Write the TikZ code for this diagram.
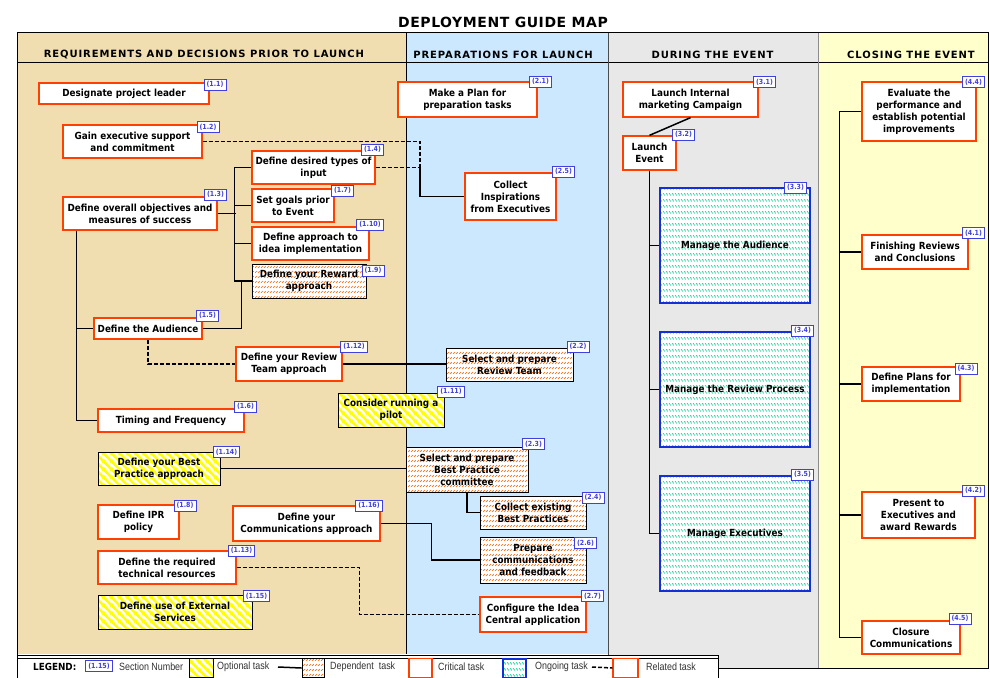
\documentclass[tikz,border=0pt]{standalone}
\usepackage{fontspec}
\setmainfont{DejaVu Sans}
\newfontfamily\taskfont{DejaVu Sans}[FakeStretch=0.9]
\newfontfamily\headfont{DejaVu Sans}[LetterSpace=9]
\newfontfamily\titlefont{DejaVu Sans}[LetterSpace=4]
\newfontfamily\legfont{Liberation Sans}[FakeStretch=0.85]
\usepackage{tikz}
\usetikzlibrary{patterns}

\definecolor{colreq}{RGB}{240,222,176}
\definecolor{colprep}{RGB}{204,232,255}
\definecolor{colduring}{RGB}{232,232,232}
\definecolor{colclose}{RGB}{255,255,204}
\definecolor{critred}{RGB}{255,64,0}
\definecolor{depor}{RGB}{255,110,20}
\definecolor{optyel}{RGB}{255,255,0}
\definecolor{ongoblue}{RGB}{16,48,220}
\definecolor{ongogreen}{RGB}{0,210,150}
\definecolor{tagblue}{RGB}{64,64,220}

% small slanted marks for dependent tasks
\pgfdeclarepatternformonly{depmarks}{\pgfpointorigin}{\pgfpoint{3pt}{4.5pt}}{\pgfpoint{3pt}{4.5pt}}{
  \pgfsetlinewidth{0.8pt}
  \pgfpathmoveto{\pgfpoint{0.4pt}{1.2pt}}
  \pgfpathlineto{\pgfpoint{2.2pt}{3.2pt}}
  \pgfusepath{stroke}
}
% marks for ongoing tasks
\pgfdeclarepatternformonly{ongomarks}{\pgfpointorigin}{\pgfpoint{3pt}{6pt}}{\pgfpoint{3pt}{6pt}}{
  \pgfsetlinewidth{0.8pt}
  \pgfpathmoveto{\pgfpoint{0.4pt}{4.2pt}}
  \pgfpathlineto{\pgfpoint{2.2pt}{1.8pt}}
  \pgfusepath{stroke}
}
% wide stripes for optional tasks
\pgfdeclarepatternformonly{optstripes}{\pgfpointorigin}{\pgfpoint{8pt}{8pt}}{\pgfpoint{8pt}{8pt}}{
  \pgfsetlinewidth{2.8pt}
  \pgfpathmoveto{\pgfpoint{-1pt}{1pt}}\pgfpathlineto{\pgfpoint{1pt}{-1pt}}
  \pgfpathmoveto{\pgfpoint{-1pt}{9pt}}\pgfpathlineto{\pgfpoint{9pt}{-1pt}}
  \pgfpathmoveto{\pgfpoint{7pt}{9pt}}\pgfpathlineto{\pgfpoint{9pt}{7pt}}
  \pgfusepath{stroke}
}

\begin{document}
\begin{tikzpicture}[x=1pt, y=-1pt]
		\tikzset{
		    box/.style={rectangle, inner sep=0pt, align=center, font=\taskfont\bfseries\fontsize{9.8}{12}\selectfont},
		    sz/.style 2 args={minimum width=#1pt, minimum height=#2pt},
		    crit/.style={box, draw=critred, fill=white, line width=1.3pt},
		    dep/.style={box, draw=black, line width=0.9pt, preaction={fill=white}, pattern=depmarks, pattern color=depor},
		    opt/.style={box, draw=black, line width=0.9pt, preaction={fill=white}, pattern=optstripes, pattern color=optyel},
		    ongo/.style={box, draw=ongoblue, line width=2pt, preaction={fill=white}, pattern=ongomarks, pattern color=ongogreen},
		    tag/.style={rectangle, draw=tagblue, fill=white, text=tagblue, line width=0.9pt, inner xsep=2.5pt, inner ysep=0pt, minimum height=11pt, font=\taskfont\bfseries\fontsize{7}{8}\selectfont},
		    link/.style={draw=black, line width=1.5pt},
		    rel/.style={draw=black, line width=1.5pt, dash pattern=on 4pt off 2pt},
		    head/.style={font=\headfont\bfseries\fontsize{10}{12}\selectfont},
		    leg/.style={anchor=west, inner sep=0pt, text=black!80, font=\legfont\fontsize{10.5}{12}\selectfont},
		}
		\useasboundingbox (0,0) rectangle (990,677);
		
		% columns
		\fill[colreq] (17,33) rectangle (406,654);
		\fill[colprep] (406,33) rectangle (608,654);
		\fill[colduring] (608,33) rectangle (818,668);
		\fill[colclose] (818,33) rectangle (988,668);
		\draw[line width=1pt] (17,680) -- (17,33) -- (988,33) -- (988,668) -- (718,668);
		\draw[line width=1pt] (17,63) -- (988,63);
		\draw[line width=1pt] (406,33) -- (406,654);
		\draw[black!70, line width=0.8pt] (608,33) -- (608,668);
		\draw[black!45, line width=0.8pt] (818,33) -- (818,668);
		
		\node[font=\titlefont\bfseries\fontsize{14}{16}\selectfont] (title) at (503,22) {DEPLOYMENT GUIDE MAP};
		\node[head] (h1) at (204,55) {REQUIREMENTS AND DECISIONS PRIOR TO LAUNCH};
		\node[head] (h2) at (503,55) {PREPARATIONS FOR LAUNCH};
		\node[head] (h3) at (712.5,55) {DURING THE EVENT};
		\node[head] (h4) at (911,55) {CLOSING THE EVENT};
		
		% requirements and decisions
		\node[crit, sz={170}{21}] (t11) at (124,93.5) {Designate project leader};
		\node[crit, sz={139}{33}] (t12) at (132.5,141.5) {Gain executive support\\and commitment};
		\node[crit, sz={123}{33}] (t14) at (313.5,167.5) {Define desired types of\\input};
		\node[crit, sz={82}{33}] (t17) at (293,205.5) {Set goals prior\\to Event};
		\node[crit, sz={154}{33}] (t13) at (140,213.5) {Define overall objectives and\\measures of success};
		\node[crit, sz={117}{33}] (t110) at (310.5,243.5) {Define approach to\\idea implementation};
		\node[dep, sz={114}{34}] (t19) at (309,281) {Define your Reward\\approach};
		\node[crit, sz={108}{21}] (t15) at (148,328.5) {Define the Audience};
		\node[crit, sz={106}{34}] (t112) at (289,364) {Define your Review\\Team approach};
		\node[opt, sz={106}{34}] (t111) at (391,410) {Consider running a\\pilot};
		\node[crit, sz={146}{23}] (t16) at (171,420.5) {Timing and Frequency};
		\node[opt, sz={122}{33}] (t114) at (159,468.5) {Define your Best\\Practice approach};
		\node[crit, sz={81}{34}] (t18) at (138.5,522) {Define IPR\\policy};
		\node[crit, sz={147}{35}] (t116) at (306.5,523.5) {Define your\\Communications approach};
		\node[crit, sz={138}{33}] (t113) at (167,567.5) {Define the required\\technical resources};
		\node[opt, sz={154}{34}] (t115) at (175,612) {Define use of External\\Services};
		
		% preparations
		\node[crit, sz={139}{35}] (t21) at (467.5,99.5) {Make a Plan for\\preparation tasks};
		\node[crit, sz={91}{47}] (t25) at (510.5,196.5) {Collect\\Inspirations\\from Executives};
		\node[dep, sz={127}{33}] (t22) at (509.5,364.5) {Select and prepare\\Review Team};
		\node[dep, sz={122}{45}] (t23) at (467,469.5) {Select and prepare\\Best Practice\\committee};
		\node[dep, sz={106}{33}] (t24) at (533,512.5) {Collect existing\\Best Practices};
		\node[dep, sz={106}{46}] (t26) at (533,560) {Prepare\\communications\\and feedback};
		\node[crit, sz={106}{35}] (t27) at (533,614.5) {Configure the Idea\\Central application};
		
		% during the event
		\node[crit, sz={135}{35}] (t31) at (690.5,99.5) {Launch Internal\\marketing Campaign};
		\node[crit, sz={53}{34}] (t32) at (649.5,153) {Launch\\Event};
		\node[ongo, sz={150}{115}] (t33) at (735,245.5) {Manage the Audience};
		\node[ongo, sz={150}{115}] (t34) at (735,389.5) {Manage the Review Process};
		\node[ongo, sz={150}{115}] (t35) at (735,533.5) {Manage Executives};
		
		% closing the event
		\node[crit, sz={114}{59}] (t44) at (919,111.5) {Evaluate the\\performance and\\establish potential\\improvements};
		\node[crit, sz={106}{34}] (t41) at (915,252) {Finishing Reviews\\and Conclusions};
		\node[crit, sz={98}{34}] (t43) at (911,384) {Define Plans for\\implementation};
		\node[crit, sz={113}{46}] (t42) at (918.5,515) {Present to\\Executives and\\award Rewards};
		\node[crit, sz={98}{33}] (t45) at (911,637.5) {Closure\\Communications};
		
		% connectors
		\coordinate (j25) at (420,167.5);
		\draw[link] (t13.east) -- ++(18,0);
		\draw[link] (t14.west) -- ++(-17,0) |- (t19.west);
		\draw[link] (t17.west) -- ++(-17,0);
		\draw[link] (t110.west) -- ++(-17,0);
		\draw[link] (t15.east) -| ([xshift=-10pt]t19.west);
		\draw[link] ([xshift=14pt]t13.south west) |- (t16.west);
		\draw[link] ([xshift=14pt]t13.south west) |- (t15.west);
		\draw[rel] (t15.south) |- (t112.west);
		\draw[link] (t112.east) -- (t112.east -| t22.west);
		\draw[link] (t114.east) -- (t114.east -| t23.west);
		\draw[link] (t23.south) |- (t24.west);
		\draw[link] (t116.east) -- ++(51,0) |- (t26.west);
		\draw[rel] (t113.east) -- ++(123,0) |- (t27.west);
		\draw[rel] (t12.east) -| (j25);
		\draw[rel] (t14.east) -- (j25);
		\draw[link] (j25) |- (t25.west);
		\draw[link] (t31.south) -- (t32.north);
		\draw[link] (t32.south) |- (t35.west);
		\draw[link] (t32.south) |- (t33.west);
		\draw[link] (t32.south) |- (t34.west);
		\draw[link] (t44.west) -- ++(-22,0) |- (t45.west);
		\draw[link] (t41.west) -- ++(-22,0);
		\draw[link] (t43.west) -- ++(-22,0);
		\draw[link] (t42.west) -- ++(-22,0);
		
		% section numbers
		\node[tag] (g11) at (215,84.5) {(1.1)};
		\node[tag] (g12) at (208,127) {(1.2)};
		\node[tag] (g14) at (372.5,149.5) {(1.4)};
		\node[tag] (g17) at (342.5,190.5) {(1.7)};
		\node[tag] (g13) at (215.5,194.5) {(1.3)};
		\node[tag] (g110) at (370,224.5) {(1.10)};
		\node[tag] (g19) at (373,270.5) {(1.9)};
		\node[tag] (g15) at (207.5,315.5) {(1.5)};
		\node[tag] (g112) at (354,346.5) {(1.12)};
		\node[tag] (g111) at (451,391.5) {(1.11)};
		\node[tag] (g16) at (245.5,406.5) {(1.6)};
		\node[tag] (g114) at (226.5,452) {(1.14)};
		\node[tag] (g18) at (185,505.5) {(1.8)};
		\node[tag] (g116) at (369,505.5) {(1.16)};
		\node[tag] (g113) at (241.5,550.5) {(1.13)};
		\node[tag] (g115) at (256.5,596) {(1.15)};
		\node[tag] (g21) at (540.5,81.5) {(2.1)};
		\node[tag] (g25) at (563.5,171.5) {(2.5)};
		\node[tag] (g22) at (578,346.5) {(2.2)};
		\node[tag] (g23) at (533.5,444) {(2.3)};
		\node[tag] (g24) at (593,497.5) {(2.4)};
		\node[tag] (g26) at (585.5,543) {(2.6)};
		\node[tag] (g27) at (592.5,596) {(2.7)};
		\node[tag] (g31) at (764.5,82) {(3.1)};
		\node[tag] (g32) at (683.5,134.5) {(3.2)};
		\node[tag] (g33) at (795.5,187.5) {(3.3)};
		\node[tag] (g34) at (802.5,330.5) {(3.4)};
		\node[tag] (g35) at (802.5,474.5) {(3.5)};
		\node[tag] (g44) at (973.5,82) {(4.4)};
		\node[tag] (g41) at (973.5,233) {(4.1)};
		\node[tag] (g43) at (966,368.5) {(4.3)};
		\node[tag] (g42) at (973.5,490.5) {(4.2)};
		\node[tag] (g45) at (960,618.5) {(4.5)};
		
		% legend
		\draw[fill=white, line width=1pt] (17,655) rectangle (718,682);
		\draw[line width=0.6pt] (17,658) -- (718,658);
		\node[box, anchor=west] (lgtitle) at (33,667) {LEGEND:};
		\node[tag] (lgtag) at (99,666) {(1.15)};
		\node[leg] (lgsect) at (119,667) {Section Number};
		\node[opt, sz={24}{19}] (lgopt) at (201,668) {};
		\node[leg] (lgopttxt) at (217,667) {Optional task};
		\coordinate (lgline) at (278,667);
		\node[dep, sz={22}{19}] (lgdep) at (313,668) {};
		\node[leg] (lgdeptxt) at (330,667) {Dependent\ \ task};
		\node[crit, sz={23}{19}] (lgcrit) at (420.5,668) {};
		\node[leg] (lgcrittxt) at (438,667) {Critical task};
		\node[ongo, sz={23}{19}] (lgongo) at (514.5,668) {};
		\node[leg] (lgongotxt) at (535,667) {Ongoing task};
		\coordinate (lgdash) at (592,667);
		\node[crit, sz={25}{19}] (lgrel) at (625.5,668) {};
		\node[leg] (lgreltxt) at (646,667) {Related task};
		\draw[link] (lgline) -- (lgdep.west);
		\draw[rel] (lgdash) -- (lgrel.west);
	\end{tikzpicture}
\end{document}
